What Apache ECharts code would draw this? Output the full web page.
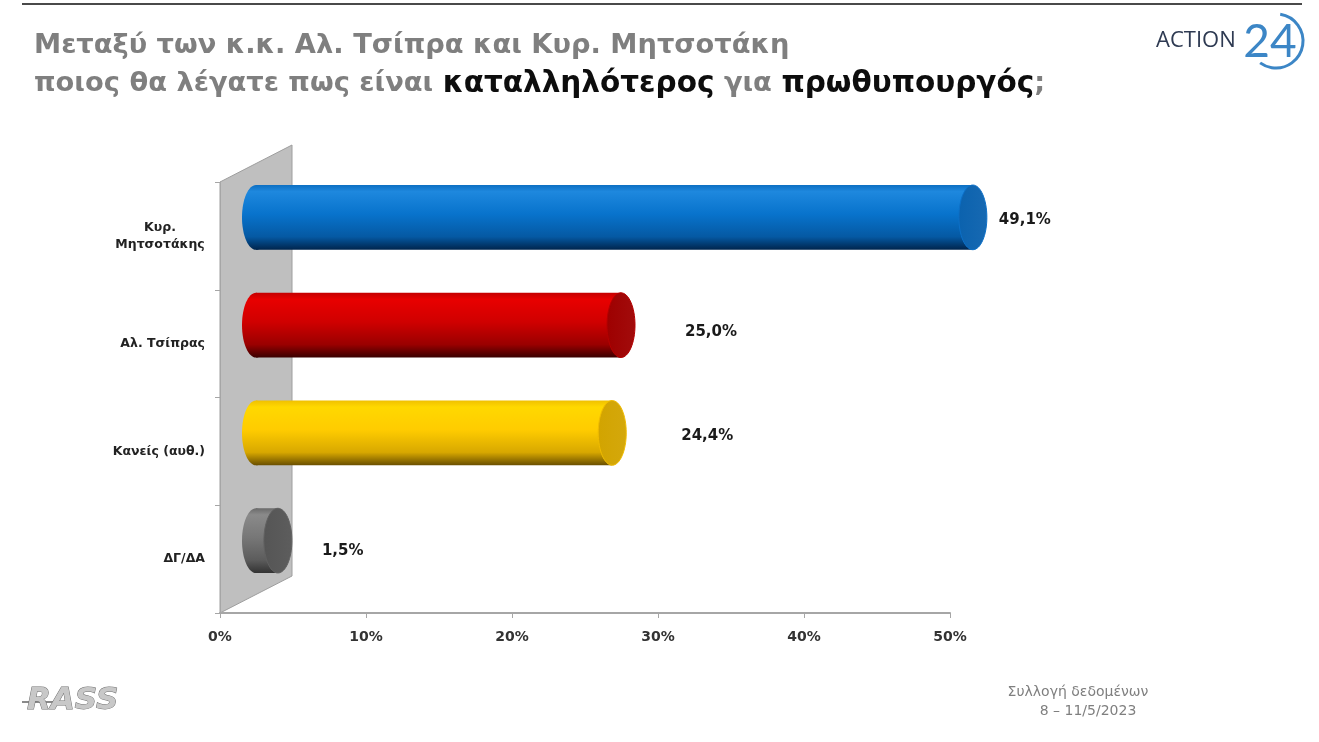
<!DOCTYPE html>
<html>
<head>
<meta charset="utf-8">
<script src="https://cdn.jsdelivr.net/npm/echarts@6/dist/echarts.min.js"></script>
<style>
  html, body { margin: 0; padding: 0; background: #ffffff; }
  #chart { width: 1319px; height: 742px; }
</style>
</head>
<body>
<div id="chart"></div>
<script>
// ---- data ----
const categories = ['Κυρ.\nΜητσοτάκης', 'Αλ. Τσίπρας', 'Κανείς (αυθ.)', 'ΔΓ/ΔΑ'];
const values = [49.1, 25.0, 24.4, 1.5];
const xTicks = [0, 10, 20, 30, 40, 50];

// ---- styles ----
const FONT = '"DejaVu Sans"';
const bodyStops = [
  ['#0d6fc2', '#1e88de', '#0873cc', '#0559a3', '#00254d'],
  ['#c40000', '#e80000', '#d00000', '#9a0000', '#3a0000'],
  ['#f0c000', '#ffd800', '#ffcc00', '#d8a800', '#6a4f00'],
  ['#6a6a6a', '#8a8a8a', '#777777', '#5c5c5c', '#333333']
];
const capColors = ['#0b62ae', '#9e0000', '#d2a400', '#555555'];
const labelGap = [12, 50, 55, 30];
const labelDy = [3, 7, 3, 10];
const GRID = { left: 220, top: 182, width: 730, height: 431 };
const DEPTH_X = 72, DEPTH_Y = -37;

function fmt(v) { return v.toFixed(1).replace('.', ',') + '%'; }

const chart = echarts.init(document.getElementById('chart'));

const option = {
  backgroundColor: '#ffffff',
  animation: false,
  title: {
    left: 29, top: 22,
    text: '{g|Μεταξύ των κ.κ. Αλ. Τσίπρα και Κυρ. Μητσοτάκη}\n{g|ποιος θα λέγατε πως είναι }{b|καταλληλότερος}{g| για }{b|πρωθυπουργός}{g|;}',
    textStyle: {
      rich: {
        g: { fontFamily: FONT, fontSize: 27.3, fontWeight: 'bold', color: '#7f7f7f', lineHeight: 38 },
        b: { fontFamily: FONT, fontSize: 29.5, fontWeight: 'bold', color: '#0d0d0d', lineHeight: 38 }
      }
    }
  },
  grid: { left: GRID.left, top: GRID.top, width: GRID.width, height: GRID.height, containLabel: false },
  xAxis: {
    type: 'value', min: xTicks[0], max: xTicks[xTicks.length - 1], interval: xTicks[1] - xTicks[0],
    axisLine: { show: true, lineStyle: { color: '#a6a6a6', width: 2 } },
    axisTick: { show: true, length: 5, lineStyle: { color: '#a6a6a6', width: 1 } },
    splitLine: { show: false },
    axisLabel: { formatter: '{value}%', color: '#333333', fontFamily: FONT, fontWeight: 'bold', fontSize: 14, margin: 17 }
  },
  yAxis: {
    type: 'category', inverse: true, data: categories,
    axisLine: { show: true, lineStyle: { color: '#a6a6a6', width: 1 } },
    axisTick: { show: true, length: 5, lineStyle: { color: '#a6a6a6' } },
    axisLabel: {
      color: '#222222', fontFamily: FONT, fontWeight: 'bold', fontSize: 12.5, lineHeight: 17, margin: 15,
      formatter: function (v) {
        if (v.indexOf('\n') < 0) return v;
        return v.split('\n').map(function (s) { return '{c|' + s + '}'; }).join('\n');
      },
      rich: { c: { width: 90, align: 'center', color: '#222222', fontFamily: FONT, fontWeight: 'bold', fontSize: 12.5, lineHeight: 17 } }
    }
  },
  graphic: [
    { type: 'line', shape: { x1: 22, y1: 4, x2: 1302, y2: 4 }, style: { stroke: '#4a4a4a', lineWidth: 2 } },
    { type: 'polygon', z: -10,
      shape: { points: [
        [GRID.left, GRID.top], [GRID.left + DEPTH_X, GRID.top + DEPTH_Y],
        [GRID.left + DEPTH_X, GRID.top + GRID.height + DEPTH_Y], [GRID.left, GRID.top + GRID.height]
      ] },
      style: { fill: '#bfbfbf', stroke: '#9e9e9e', lineWidth: 1 } },
    { type: 'text', x: 1156, y: 41, style: { text: 'ACTION', fill: '#2e3a52', font: 'normal 22px "Open Sans"', verticalAlign: 'middle', align: 'left' } },
    { type: 'text', x: 1270, y: 42, style: { text: '24', fill: '#3c86c6', font: 'normal 46px "Lato"', verticalAlign: 'middle', align: 'center' } },
    { type: 'arc', shape: { cx: 1276, cy: 41, r: 27, startAngle: -Math.PI * 0.45, endAngle: Math.PI * 0.7, clockwise: true },
      style: { stroke: '#3c86c6', lineWidth: 3, fill: null } },
    { type: 'line', shape: { x1: 22, y1: 702, x2: 70, y2: 702 }, style: { stroke: '#8a8a8a', lineWidth: 2 } },
    { type: 'text', x: 27, y: 701, style: { text: 'RASS', fill: '#c8c8c8', stroke: '#6f6f6f', lineWidth: 1, font: 'italic bold 31px ' + FONT, verticalAlign: 'middle', align: 'left' } },
    { type: 'text', x: 1078, y: 692, style: { text: 'Συλλογή δεδομένων', fill: '#7f7f7f', font: 'normal 14px ' + FONT, verticalAlign: 'middle', align: 'center' } },
    { type: 'text', x: 1088, y: 711, style: { text: '8 – 11/5/2023', fill: '#7f7f7f', font: 'normal 14px ' + FONT, verticalAlign: 'middle', align: 'center' } }
  ],
  series: [{
    type: 'custom',
    encode: { x: 0, y: 1 },
    data: values.map((v, i) => [v, i]),
    renderItem: function (params, api) {
      const i = params.dataIndex;
      const v = api.value(0);
      const cat = api.value(1);
      const p0 = api.coord([0, cat]);
      const p1 = api.coord([v, cat]);
      const band = api.size([0, 1])[1];
      const ry = band * 0.30;
      const rx = 14;
      const dx = DEPTH_X / 2, dy = DEPTH_Y / 2;
      const x0 = p0[0] + dx, x1 = p1[0] + dx, cy = p0[1] + dy;
      const s = bodyStops[i];
      const grad = new echarts.graphic.LinearGradient(0, 0, 0, 1, [
        { offset: 0, color: s[0] }, { offset: 0.1, color: s[1] }, { offset: 0.45, color: s[2] },
        { offset: 0.8, color: s[3] }, { offset: 1, color: s[4] }
      ]);
      const capGrad = new echarts.graphic.LinearGradient(0, 0, 1, 0, [
        { offset: 0, color: capColors[i] }, { offset: 1, color: echarts.color.lift(capColors[i], 0.05) }
      ]);
      return {
        type: 'group',
        children: [
          { type: 'ellipse', shape: { cx: x0, cy: cy, rx: rx, ry: ry }, style: { fill: grad } },
          { type: 'rect', shape: { x: x0, y: cy - ry, width: Math.max(x1 - x0, 0), height: ry * 2 }, style: { fill: grad } },
          { type: 'ellipse', shape: { cx: x1, cy: cy, rx: rx, ry: ry }, style: { fill: capGrad, stroke: echarts.color.lift(capColors[i], -0.15), lineWidth: 1 } },
          { type: 'text', style: { text: fmt(v), x: x1 + rx + labelGap[i], y: cy + labelDy[i], fill: '#1a1a1a', font: 'bold 15px ' + FONT, verticalAlign: 'middle', align: 'left' } }
        ]
      };
    }
  }]
};
chart.setOption(option);
</script>
</body>
</html>
